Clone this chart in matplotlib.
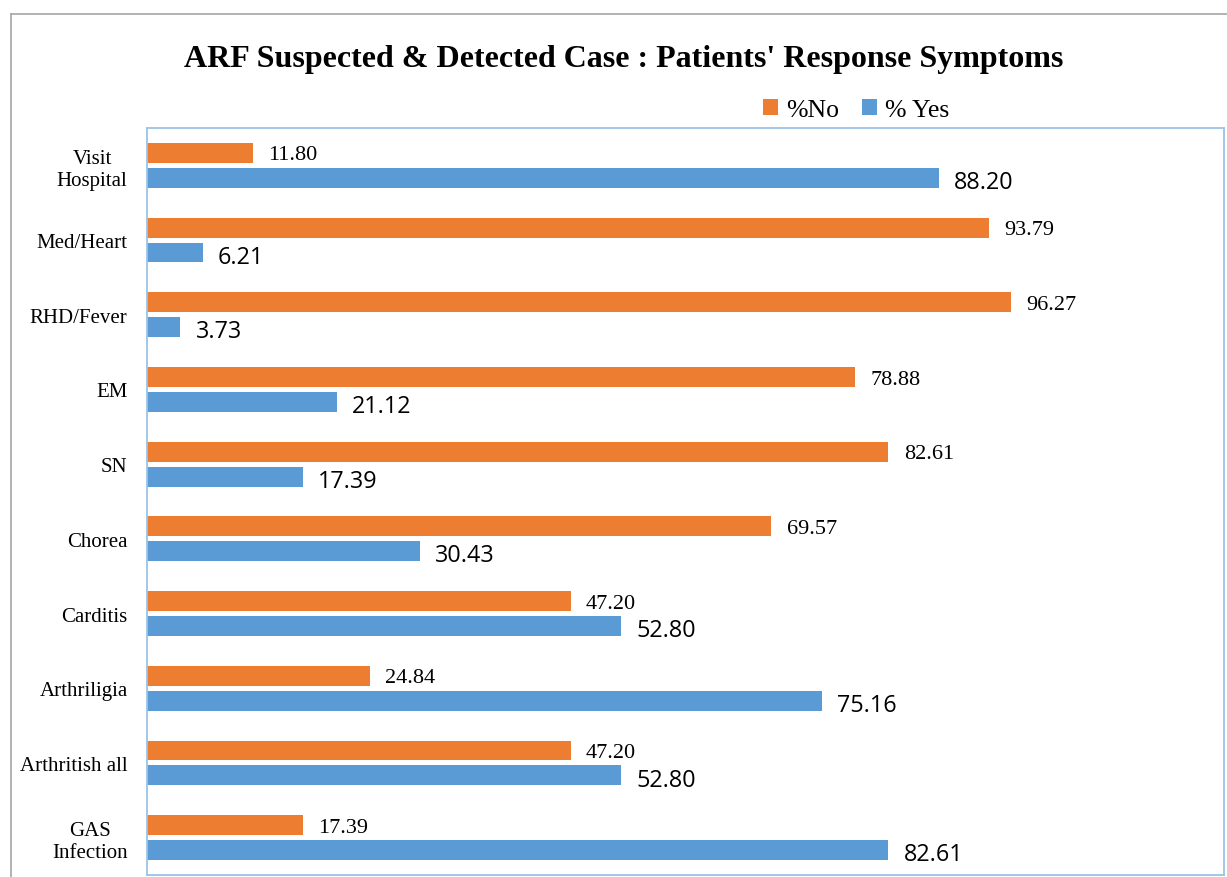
import matplotlib
matplotlib.use('Agg')
import matplotlib.pyplot as plt
import numpy as np

# data
categories = ['Visit\nHospital', 'Med/Heart', 'RHD/Fever', 'EM', 'SN', 'Chorea',
              'Carditis', 'Arthriligia', 'Arthritish all', 'GAS\nInfection']
pct_no = [11.80, 93.79, 96.27, 78.88, 82.61, 69.57, 47.20, 24.84, 47.20, 17.39]
pct_yes = [88.20, 6.21, 3.73, 21.12, 17.39, 30.43, 52.80, 75.16, 52.80, 82.61]

c_no = '#ED7D31'
c_yes = '#5B9BD5'
serif = ['Liberation Serif', 'DejaVu Serif']

fig = plt.figure(figsize=(12.27, 8.78), dpi=100)
ax = fig.add_axes([147/1227, 2/878, 1077/1227, 747/878])

y = np.arange(len(categories))
h = 0.267
b_no = ax.barh(y - 0.167, pct_no, height=h, color=c_no, label='%No')
b_yes = ax.barh(y + 0.167, pct_yes, height=h, color=c_yes, label='% Yes')

# value labels
for v, yy in zip(pct_no, y - 0.167):
    ax.annotate('%.2f' % v, (v, yy), xytext=(11, -1.5), textcoords='offset points',
                va='center', ha='left', fontsize=16, family=serif)
for v, yy in zip(pct_yes, y + 0.167):
    ax.annotate('%.2f' % v, (v, yy), xytext=(11, -3), textcoords='offset points',
                va='center', ha='left', fontsize=16.8, family=['Open Sans', 'DejaVu Sans'])

ax.set_xlim(0, 120)
ax.set_ylim(len(categories) - 0.5, -0.5)
ax.set_xticks([])
ax.set_yticks(y)
ax.set_yticklabels(categories, fontsize=15, family=serif, multialignment='center')
ax.tick_params(axis='y', length=0, pad=14)
for s in ax.spines.values():
    s.set_color('#9DC3E6')
    s.set_linewidth(1.3)

# outer chart frame
fig.add_artist(plt.Line2D([10.5/1227, 10.5/1227], [0, 1 - 15/878],
                          color='#a6a6a6', lw=1.2, transform=fig.transFigure))
fig.add_artist(plt.Line2D([10.5/1227, 1], [1 - 15/878, 1 - 15/878],
                          color='#a6a6a6', lw=1.2, transform=fig.transFigure))

fig.text(624/1227, 1 - 59/878, "ARF Suspected & Detected Case : Patients' Response Symptoms",
         ha='center', va='center', fontsize=23, fontweight='bold', family=serif)

fig.legend(handles=[b_no, b_yes], loc='center', bbox_to_anchor=(856/1227, 1 - 111/878),
           ncol=2, frameon=False, handlelength=0.6, handleheight=0.6,
           handletextpad=0.3, columnspacing=0.9, prop={'family': serif, 'size': 18.5})

fig.savefig('out.png', dpi=100)
